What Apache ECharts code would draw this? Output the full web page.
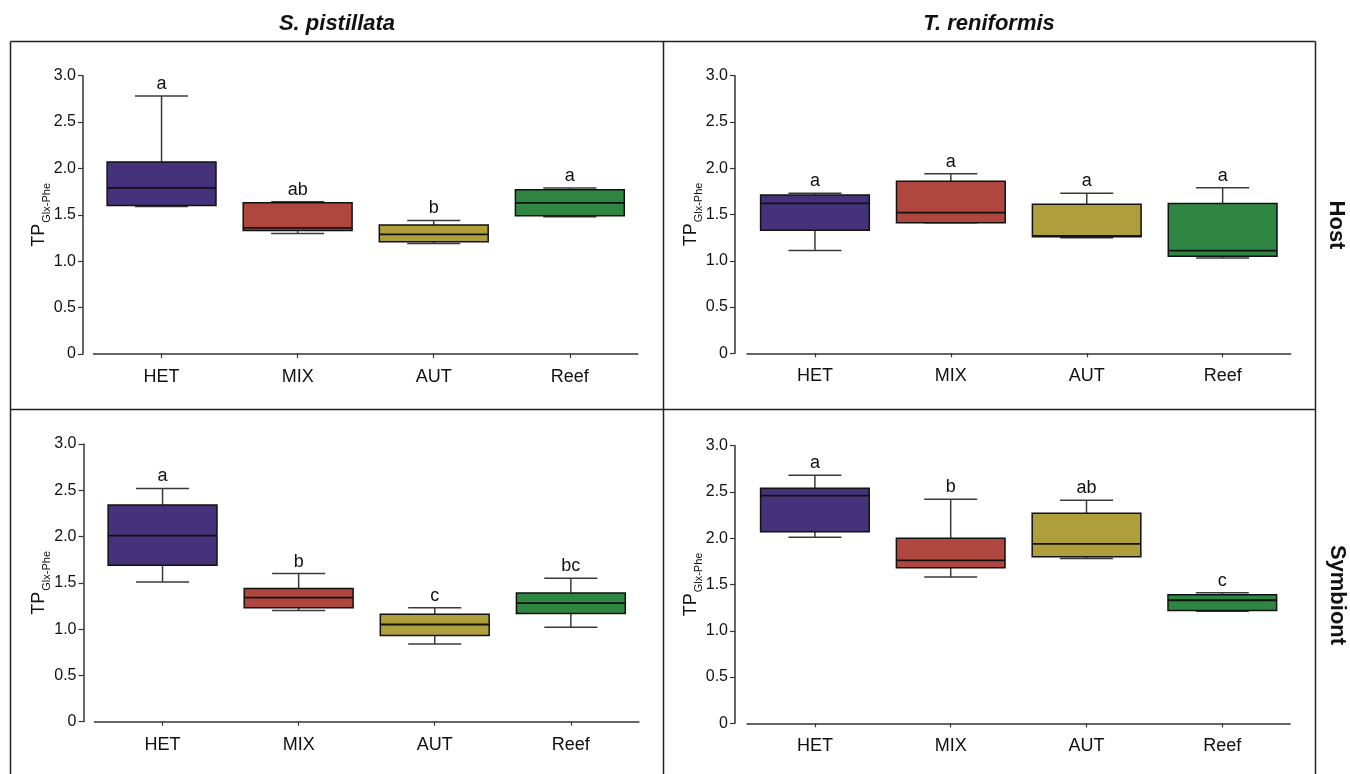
<!DOCTYPE html>
<html>
<head>
<meta charset="utf-8">
<script src="https://cdn.jsdelivr.net/npm/echarts@6/dist/echarts.min.js"></script>
<style>
html,body{margin:0;padding:0;background:#fff;}
#chart{width:1350px;height:774px;}
</style>
</head>
<body>
<div id="chart"></div>
<script>
// ---- data ----
const categories = ['HET', 'MIX', 'AUT', 'Reef'];
const yTickLabels = ['0', '0.5', '1.0', '1.5', '2.0', '2.5', '3.0'];
const colTitles = ['S. pistillata', 'T. reniformis'];
const rowTitles = ['Host', 'Symbiont'];
const boxColors = ['#46327a', '#b0473e', '#ae9f3c', '#2e8642'];

// [min, Q1, median, Q3, max]
const spHost = [
  [1.59, 1.60, 1.79, 2.07, 2.78],
  [1.30, 1.33, 1.36, 1.63, 1.64],
  [1.19, 1.21, 1.29, 1.39, 1.44],
  [1.48, 1.49, 1.63, 1.77, 1.79]
];
const spHostLetters = ['a', 'ab', 'b', 'a'];

const trHost = [
  [1.11, 1.33, 1.62, 1.71, 1.73],
  [1.41, 1.41, 1.52, 1.86, 1.94],
  [1.25, 1.26, 1.27, 1.61, 1.73],
  [1.03, 1.05, 1.11, 1.62, 1.79]
];
const trHostLetters = ['a', 'a', 'a', 'a'];

const spSym = [
  [1.51, 1.69, 2.01, 2.34, 2.52],
  [1.20, 1.23, 1.34, 1.44, 1.60],
  [0.84, 0.93, 1.05, 1.16, 1.23],
  [1.02, 1.17, 1.28, 1.39, 1.55]
];
const spSymLetters = ['a', 'b', 'c', 'bc'];

const trSym = [
  [2.01, 2.07, 2.46, 2.54, 2.68],
  [1.58, 1.68, 1.76, 2.00, 2.42],
  [1.78, 1.80, 1.94, 2.27, 2.41],
  [1.21, 1.22, 1.33, 1.39, 1.41]
];
const trSymLetters = ['a', 'b', 'ab', 'c'];

// ---- chart ----
const FONT = '"Liberation Sans", Arial, Helvetica, sans-serif';
const panels = [
  {data: spHost, letters: spHostLetters, grid: {left: 93.5, top: 75.7, width: 544.4, height: 278.3}},
  {data: trHost, letters: trHostLetters, grid: {left: 747, top: 75.7, width: 543.6, height: 277.6}},
  {data: spSym, letters: spSymLetters, grid: {left: 94.5, top: 444, width: 544.4, height: 277.7}},
  {data: trSym, letters: trSymLetters, grid: {left: 747, top: 445.7, width: 543.2, height: 277.6}}
];
const yOffsets = [10.5, 12, 11, 12];

const grids = [], xAxes = [], yAxes = [], series = [];
panels.forEach((p, i) => {
  grids.push(Object.assign({containLabel: false}, p.grid));
  xAxes.push({
    type: 'category', gridIndex: i, data: categories, boundaryGap: true,
    offset: 5,
    axisLine: {show: true, lineStyle: {color: '#333', width: 1.5}},
    axisTick: {show: true, alignWithLabel: true, length: 4, lineStyle: {color: '#333', width: 1.2}},
    axisLabel: {fontFamily: FONT, fontSize: 18, color: '#111', margin: 9},
    splitLine: {show: false}
  });
  yAxes.push({
    type: 'value', gridIndex: i, min: 0, max: 3, interval: 0.5,
    offset: yOffsets[i],
    name: '{a|TP}{b|Glx-Phe}', nameLocation: 'middle', nameGap: 35, nameRotate: 90,
    nameMoveOverlap: false,
    nameTextStyle: {
      fontFamily: FONT, color: '#111',
      rich: {
        a: {fontFamily: FONT, fontSize: 18, color: '#111', verticalAlign: 'bottom', lineHeight: 20},
        b: {fontFamily: FONT, fontSize: 11, color: '#111', verticalAlign: 'bottom', lineHeight: 20, padding: [0, 0, -4, 1]}
      }
    },
    axisLine: {show: true, lineStyle: {color: '#333', width: 1.5}},
    axisTick: {show: true, length: 5, lineStyle: {color: '#333', width: 1.2}},
    axisLabel: {
      fontFamily: FONT, fontSize: 16, color: '#111', margin: 7,
      formatter: v => yTickLabels[Math.round(v / 0.5)]
    },
    splitLine: {show: false}
  });
  const letters = p.letters;
  series.push({
    type: 'custom', xAxisIndex: i, yAxisIndex: i, clip: false,
    encode: {x: 0, y: [1, 2, 3, 4, 5]},
    data: p.data.map((d, k) => [k].concat(d)),
    renderItem: function (params, api) {
      const idx = api.value(0);
      const lo = api.coord([idx, api.value(1)]);
      const q1 = api.coord([idx, api.value(2)]);
      const med = api.coord([idx, api.value(3)]);
      const q3 = api.coord([idx, api.value(4)]);
      const hi = api.coord([idx, api.value(5)]);
      const band = api.size([1, 0])[0];
      const bw = band * 0.8, cw = band * 0.39;
      const x = lo[0];
      const wStyle = {stroke: '#3a3a3a', lineWidth: 1.5};
      return {
        type: 'group',
        children: [
          {type: 'line', shape: {x1: x, y1: lo[1], x2: x, y2: q1[1]}, style: wStyle},
          {type: 'line', shape: {x1: x, y1: q3[1], x2: x, y2: hi[1]}, style: wStyle},
          {type: 'line', shape: {x1: x - cw / 2, y1: lo[1], x2: x + cw / 2, y2: lo[1]}, style: wStyle},
          {type: 'line', shape: {x1: x - cw / 2, y1: hi[1], x2: x + cw / 2, y2: hi[1]}, style: wStyle},
          {type: 'rect', shape: {x: x - bw / 2, y: q3[1], width: bw, height: q1[1] - q3[1]},
            style: {fill: boxColors[idx], stroke: '#111', lineWidth: 1.5}},
          {type: 'line', shape: {x1: x - bw / 2, y1: med[1], x2: x + bw / 2, y2: med[1]},
            style: {stroke: '#111', lineWidth: 1.8}},
          {type: 'text', style: {text: letters[idx], x: x, y: hi[1] - 3, align: 'center', verticalAlign: 'bottom',
            fontFamily: FONT, fontSize: 18, fill: '#111'}}
        ]
      };
    }
  });
});

const frameStyle = {stroke: '#222', lineWidth: 1.5};
const graphic = [
  {type: 'line', shape: {x1: 10.5, y1: 41.5, x2: 1315.5, y2: 41.5}, style: frameStyle},
  {type: 'line', shape: {x1: 10.5, y1: 409.5, x2: 1315.5, y2: 409.5}, style: frameStyle},
  {type: 'line', shape: {x1: 10.5, y1: 41.5, x2: 10.5, y2: 780}, style: frameStyle},
  {type: 'line', shape: {x1: 663.5, y1: 41.5, x2: 663.5, y2: 780}, style: frameStyle},
  {type: 'line', shape: {x1: 1315.5, y1: 41.5, x2: 1315.5, y2: 780}, style: frameStyle},
  {type: 'text', x: 337, y: 24, style: {text: colTitles[0], align: 'center', verticalAlign: 'middle',
    fontFamily: FONT, fontSize: 22, fontWeight: 'bold', fontStyle: 'italic', fill: '#111'}},
  {type: 'text', x: 989, y: 24, style: {text: colTitles[1], align: 'center', verticalAlign: 'middle',
    fontFamily: FONT, fontSize: 22, fontWeight: 'bold', fontStyle: 'italic', fill: '#111'}},
  {type: 'text', x: 1336, y: 225, rotation: -Math.PI / 2, style: {text: rowTitles[0], align: 'center', verticalAlign: 'middle',
    fontFamily: FONT, fontSize: 22, fontWeight: 'bold', fill: '#111'}},
  {type: 'text', x: 1337, y: 595, rotation: -Math.PI / 2, style: {text: rowTitles[1], align: 'center', verticalAlign: 'middle',
    fontFamily: FONT, fontSize: 22, fontWeight: 'bold', fill: '#111'}}
];

const chart = echarts.init(document.getElementById('chart'), null, {renderer: 'canvas'});
chart.setOption({
  animation: false,
  backgroundColor: '#fff',
  grid: grids, xAxis: xAxes, yAxis: yAxes, series: series, graphic: graphic
});
</script>
</body>
</html>
